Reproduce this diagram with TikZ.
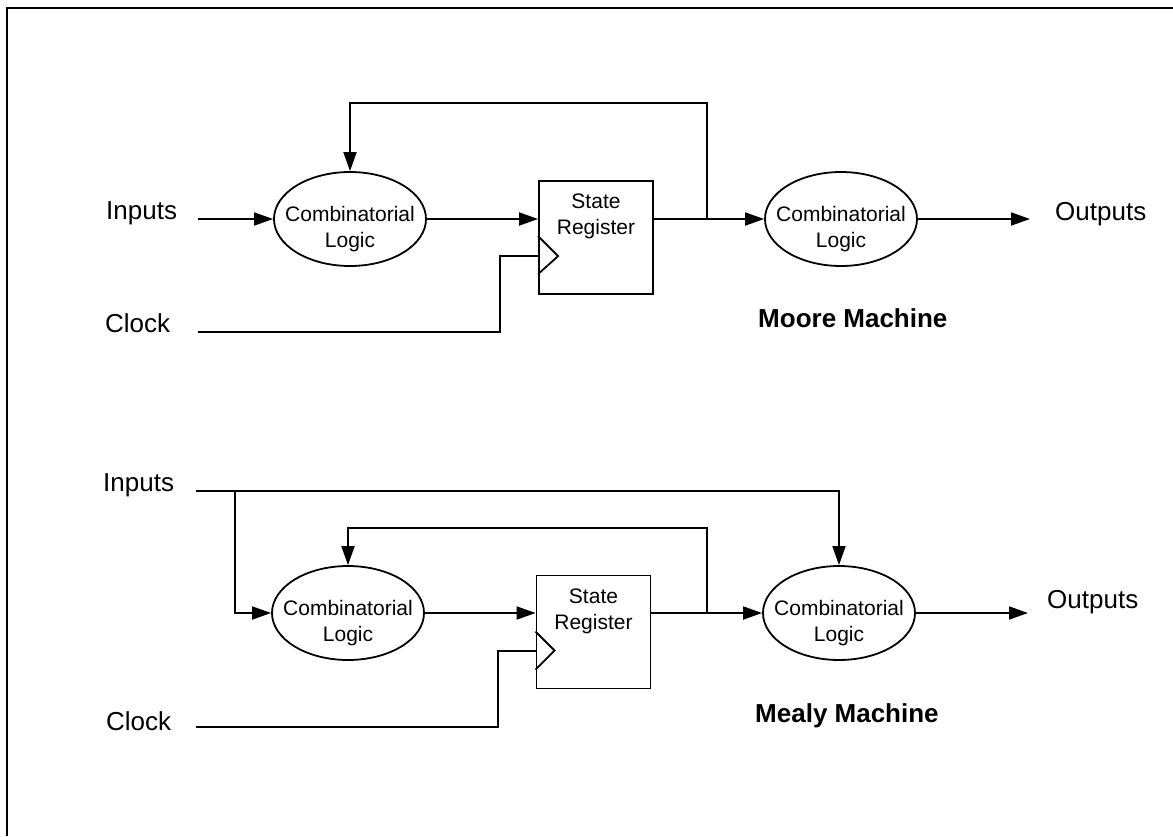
\documentclass[tikz,border=0pt]{standalone}
\usepackage{fontspec}
\setmainfont{Liberation Sans}
\usetikzlibrary{shapes.geometric,arrows.meta,calc}
\begin{document}
\begin{tikzpicture}[x=1pt,y=-1pt,
  wire/.style={line width=1.8pt},
  arr/.style={wire,-{Triangle[length=19pt,width=13pt]}},
  logic/.style={draw,ellipse,line width=1.8pt,minimum width=152pt,minimum height=94pt,inner sep=0pt},
  logictext/.style={align=center,inner sep=0pt,font=\fontsize{21}{26}\selectfont},
  regbox/.style={draw,rectangle,line width=1.8pt,minimum width=114pt,minimum height=113pt,inner sep=0pt},
  lbl/.style={anchor=base west,inner sep=0pt,font=\fontsize{26}{31}\selectfont},
  title/.style={anchor=base west,inner sep=0pt,font=\fontsize{26}{31}\selectfont\bfseries},
]
\useasboundingbox (0,0) rectangle (1173,836);
\draw[line width=2.5pt] (7,836) -- (7,8) -- (1173,8);

% ---------------- Moore machine ----------------
\node[logic] (cl1) at (350,219) {};
\node[logictext] (cl1t) at ($(cl1)+(0,10)$) {Combinatorial\\Logic};
\node[regbox] (reg1) at (596,237.5) {};
\node[logictext,anchor=north] (reg1t) at ($(reg1.north)+(0,14)$) {State\\Register};
\node[logic] (ol1) at (841,219) {};
\node[logictext] (ol1t) at ($(ol1)+(0,10)$) {Combinatorial\\Logic};
\node[lbl] (in1) at (106,219) {Inputs};
\node[lbl] (ck1) at (105,332) {Clock};
\node[lbl] (out1) at (1055,220) {Outputs};
\node[title] (moore) at (758,327) {Moore Machine};

\coordinate (in1s) at (198,219);
\coordinate (ck1s) at (198,332);
\coordinate (j1) at (707,219);
\coordinate (fb1) at (707,103);
\coordinate (out1e) at (1030,219);
\coordinate (clk1) at ($(reg1.north west)+(0,76)$);

\draw[wire] ($(reg1.north west)+(0,56)$) -- ($(reg1.north west)+(20,76)$) -- ($(reg1.north west)+(0,94)$);
\draw[arr] (in1s) -- (cl1.west);
\draw[arr] (cl1.east) -- (cl1.east -| reg1.west);
\draw[arr] (reg1.east |- ol1) -- (ol1.west);
\draw[arr] (j1) -- (fb1) -| (cl1.north);
\draw[arr] (ol1.east) -- (out1e);
\draw[wire] (ck1s) -| ($(clk1)+(-38,0)$) -- (clk1);

% ---------------- Mealy machine ----------------
\node[logic] (cl2) at (348,613) {};
\node[logictext] (cl2t) at ($(cl2)+(0,10.5)$) {Combinatorial\\Logic};
\node[regbox] (reg2) at (593.5,632) {};
\node[logictext,anchor=north] (reg2t) at ($(reg2.north)+(0,14)$) {State\\Register};
\node[logic] (ol2) at (839,613) {};
\node[logictext] (ol2t) at ($(ol2)+(0,10.5)$) {Combinatorial\\Logic};
\node[lbl] (in2) at (103,491) {Inputs};
\node[lbl] (ck2) at (106,730) {Clock};
\node[lbl] (out2) at (1047,608) {Outputs};
\node[title] (mealy) at (755,722) {Mealy Machine};

\coordinate (in2s) at (196,491);
\coordinate (br2) at (235,491);
\coordinate (j2) at (707,613);
\coordinate (fb2) at (707,528);
\coordinate (ck2s) at (196,727);
\coordinate (out2e) at (1028,613);
\coordinate (clk2) at ($(reg2.north west)+(0,76)$);

\draw[wire] ($(reg2.north west)+(0,57)$) -- ($(reg2.north west)+(19,76)$) -- ($(reg2.north west)+(0,95)$);
\draw[arr] (in2s) -| (ol2.north);
\draw[arr] (br2) |- (cl2.west);
\draw[arr] (cl2.east) -- (cl2.east -| reg2.west);
\draw[arr] (reg2.east |- ol2) -- (ol2.west);
\draw[arr] (j2) -- (fb2) -| (cl2.north);
\draw[arr] (ol2.east) -- (out2e);
\draw[wire] (ck2s) -| ($(clk2)+(-38,0)$) -- (clk2);
\end{tikzpicture}
\end{document}
